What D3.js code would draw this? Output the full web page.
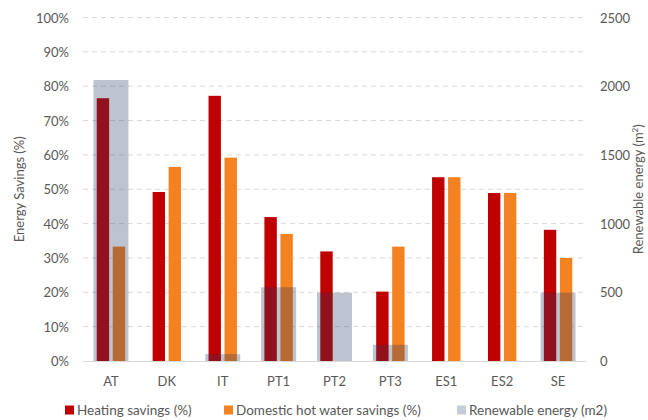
<!DOCTYPE html>
<html><head><meta charset="utf-8">
<script src="https://cdn.jsdelivr.net/npm/d3@7"></script>
<style>body{margin:0;background:#fff}svg{display:block}text{font-family:Lato,"Open Sans",sans-serif;fill:#595959}</style>
</head><body><svg id="c" width="648" height="420"></svg>
<script>
const categories = ["AT","DK","IT","PT1","PT2","PT3","ES1","ES2","SE"];
const heating = [76.5, 49.2, 77.2, 41.9, 31.9, 20.2, 53.5, 48.9, 38.2];
const dhw = [33.3, 56.5, 59.2, 37.0, 0, 33.3, 53.5, 48.9, 30.0];
const renewable = [2045, 0, 50, 537, 497, 118, 0, 0, 497];
const leftTicks = [0,10,20,30,40,50,60,70,80,90,100];
const rightTicks = [0,500,1000,1500,2000,2500];
const seriesNames = ["Heating savings (%)","Domestic hot water savings (%)","Renewable energy (m2)"];

const svg = d3.select("#c");
const L = 83, R = 586, T = 17.5, B = 361;
const x = d3.scaleBand().domain(categories).range([L,R]).paddingInner(0.374).paddingOuter(0.187);
const xs = d3.scaleBand().domain(["h","d"]).range([0,x.bandwidth()]).paddingInner(0.225).paddingOuter(0.206);
const y = d3.scaleLinear().domain([0,100]).range([B,T]);
const y2 = d3.scaleLinear().domain([0,2500]).range([B,T]);

// gridlines
svg.append("g").selectAll("line").data(leftTicks.filter(d=>d>0)).join("line")
  .attr("x1",L).attr("x2",R-3).attr("y1",d=>y(d)).attr("y2",d=>y(d))
  .attr("stroke","#d9d9d9").attr("stroke-width",1).attr("stroke-dasharray","5,4");

// left axis
const ya = d3.axisLeft(y).tickValues(leftTicks).tickFormat(d=>d+"%").tickSize(0).tickPadding(0);
const gl = svg.append("g").attr("transform",`translate(${L-14},0)`).call(ya);
gl.select(".domain").remove();
gl.selectAll("text").style("font-size","13px").attr("dy","0.35em");
// right axis
const yb = d3.axisRight(y2).tickValues(rightTicks).tickFormat(d=>String(d)).tickSize(0).tickPadding(0);
const gr = svg.append("g").attr("transform",`translate(${R+14},0)`).call(yb);
gr.select(".domain").remove();
gr.selectAll("text").style("font-size","13px").attr("dy","0.35em");

// bars
const g = svg.append("g");
g.selectAll("rect.h").data(categories).join("rect").attr("class","h")
  .attr("x",(d)=>x(d)+xs("h")).attr("width",xs.bandwidth())
  .attr("y",(d,i)=>y(heating[i])).attr("height",(d,i)=>B-y(heating[i]))
  .attr("fill","#c00000");
g.selectAll("rect.d").data(categories).join("rect").attr("class","d")
  .attr("x",(d)=>x(d)+xs("d")).attr("width",xs.bandwidth())
  .attr("y",(d,i)=>y(dhw[i])).attr("height",(d,i)=>B-y(dhw[i]))
  .attr("fill","#f58220");
g.selectAll("rect.r").data(categories).join("rect").attr("class","r")
  .attr("x",(d)=>x(d)).attr("width",x.bandwidth())
  .attr("y",(d,i)=>y2(renewable[i])).attr("height",(d,i)=>B-y2(renewable[i]))
  .attr("fill","rgb(40,55,100)").attr("fill-opacity",0.3);

// baseline
svg.append("line").attr("x1",L).attr("x2",R).attr("y1",B+0.5).attr("y2",B+0.5).attr("stroke","#d9d9d9");

// x axis
const xa = d3.axisBottom(x).tickSize(0).tickPadding(0);
const gx = svg.append("g").attr("transform",`translate(0,${B+20})`).call(xa);
gx.select(".domain").remove();
gx.selectAll("text").style("font-size","13px").attr("dy","0.35em");

// axis titles
svg.append("text").attr("transform",`translate(19,${(T+B)/2}) rotate(-90)`).attr("text-anchor","middle")
  .attr("dy","0.35em").style("font-size","13px").text("Energy Savings (%)");
svg.append("text").attr("transform",`translate(638,${(T+B)/2}) rotate(-90)`).attr("text-anchor","middle")
  .attr("dy","0.35em").style("font-size","13px").html("Renewable energy (m<tspan dy='-5' font-size='8'>2</tspan><tspan dy='5'>)</tspan>");

// legend
const legX = [65, 224, 457];
const legC = ["#c00000","#f58220","#c8ccd4"];
const lg = svg.append("g").selectAll("g").data(seriesNames).join("g")
  .attr("transform",(d,i)=>`translate(${legX[i]},410)`);
lg.append("rect").attr("x",0).attr("y",-4.5).attr("width",9).attr("height",9).attr("fill",(d,i)=>legC[i]);
lg.append("text").attr("x",12).attr("dy","0.35em").style("font-size","13.5px").text(d=>d);
</script></body></html>
